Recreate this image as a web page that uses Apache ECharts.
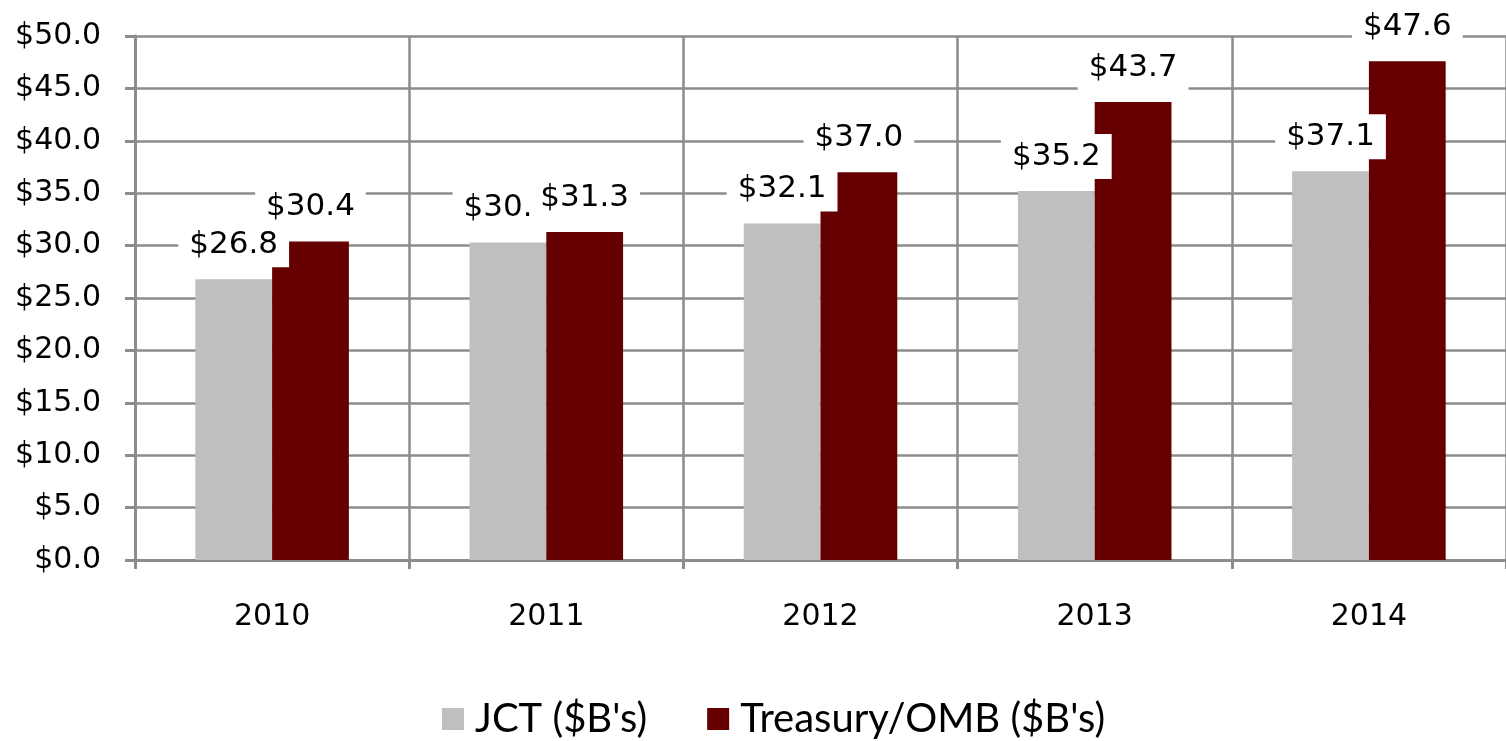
<!DOCTYPE html>
<html>
<head>
<meta charset="utf-8">
<script src="https://cdn.jsdelivr.net/npm/echarts@6/dist/echarts.min.js"></script>
<style>html,body{margin:0;padding:0;background:#fff;}#c{width:1506px;height:741px;}</style>
</head>
<body>
<div id="c"></div>
<script>
const categories = ['2010', '2011', '2012', '2013', '2014'];
const jctValues = [26.8, 30.3, 32.1, 35.2, 37.1];
const treasuryValues = [30.4, 31.3, 37.0, 43.7, 47.6];
const seriesNames = ["JCT ($B's)", "Treasury/OMB ($B's)"];

const chart = echarts.init(document.getElementById('c'), null, {renderer: 'canvas'});
const gridColor = '#8c8c8c';
const labelFont = 'DejaVu Sans';
function labelCfg() {
  return {
    show: true,
    position: 'top',
    distance: 12,
    formatter: p => '$' + p.value.toFixed(1),
    color: '#000',
    fontFamily: labelFont,
    fontSize: 31,
    backgroundColor: '#fff',
    padding: [7, 11]
  };
}
chart.setOption({
  animation: false,
  grid: {left: 135, top: 36, width: 1377, bottom: 181, containLabel: false},
  legend: {
    bottom: -3,
    left: 437,
    itemWidth: 22,
    itemHeight: 22,
    itemGap: 60,
    icon: 'rect',
    textStyle: {fontFamily: 'Lato, sans-serif', fontSize: 40, color: '#000', padding: [0, 0, 0, 6]},
    data: seriesNames
  },
  xAxis: {
    type: 'category',
    data: categories,
    boundaryGap: true,
    axisLine: {lineStyle: {color: gridColor, width: 3}},
    axisTick: {show: true, length: 9, lineStyle: {color: gridColor, width: 3}},
    axisLabel: {color: '#000', fontFamily: labelFont, fontSize: 30, margin: 42},
    splitLine: {show: true, lineStyle: {color: gridColor, width: 2.5}}
  },
  yAxis: {
    type: 'value',
    min: 0, max: 50, interval: 5,
    axisLine: {show: true, lineStyle: {color: gridColor, width: 3}},
    axisTick: {show: true, length: 10, lineStyle: {color: gridColor, width: 3}},
    axisLabel: {color: '#000', fontFamily: labelFont, fontSize: 30, margin: 34,
      formatter: v => '$' + v.toFixed(1)},
    splitLine: {show: true, lineStyle: {color: gridColor, width: 2.5}}
  },
  series: [
    {
      name: seriesNames[0], type: 'bar', data: jctValues,
      itemStyle: {color: '#bfbfbf'},
      barGap: '0%', barCategoryGap: '44%',
      label: labelCfg()
    },
    {
      name: seriesNames[1], type: 'bar', data: treasuryValues,
      itemStyle: {color: '#660000'},
      barGap: '0%', barCategoryGap: '44%',
      label: labelCfg()
    }
  ]
});
</script>
</body>
</html>
